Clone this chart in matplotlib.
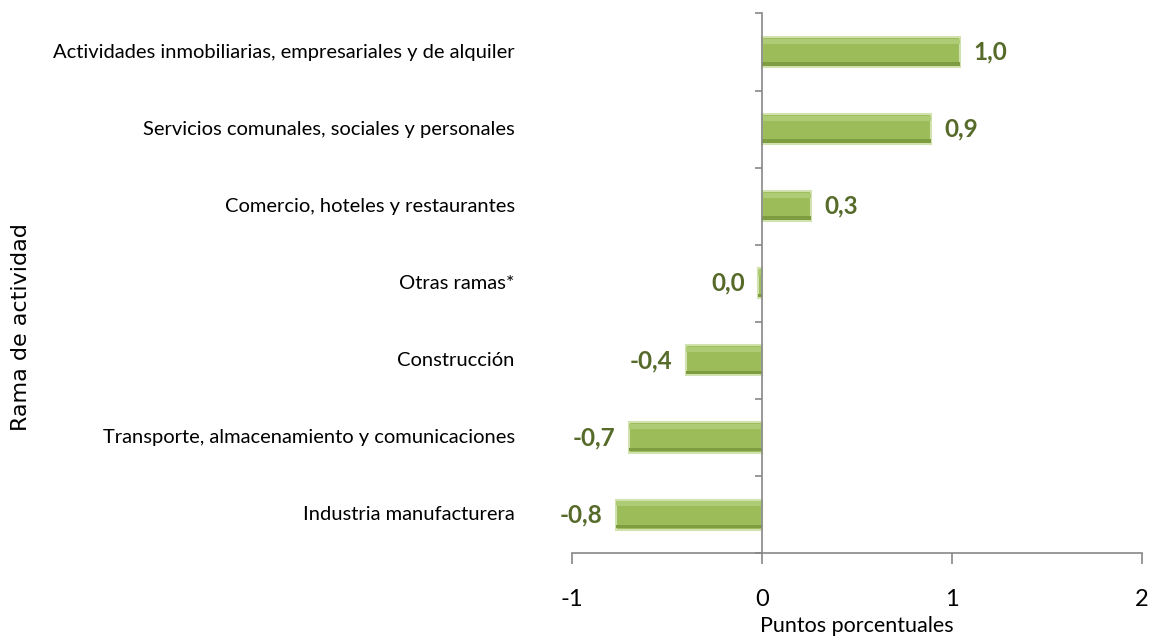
import matplotlib.pyplot as plt
from matplotlib.transforms import blended_transform_factory

# data (top to bottom)
categories = [
    "Actividades inmobiliarias, empresariales y de alquiler",
    "Servicios comunales, sociales y personales",
    "Comercio, hoteles y restaurantes",
    "Otras ramas*",
    "Construcción",
    "Transporte, almacenamiento y comunicaciones",
    "Industria manufacturera",
]
values = [1.04, 0.89, 0.26, -0.02, -0.40, -0.70, -0.77]
value_labels = ["1,0", "0,9", "0,3", "0,0", "-0,4", "-0,7", "-0,8"]
x_ticks = [-1, 0, 1, 2]

bar_face = "#9CBC5A"
label_green = "#566B2A"
axis_gray = "#878787"

fig = plt.figure(figsize=(11.53, 6.41), dpi=100)
ax = fig.add_axes([0.496, 0.137, 0.4945, 0.842])

y = list(range(len(categories)))
h = 0.39

# main bars with a soft bevel look
ax.barh(y, values, height=h, color=bar_face, edgecolor="#D2E2AE", linewidth=1.5, zorder=2)
ax.barh([p - h * 0.36 for p in y], values, height=h * 0.16, color="#AECB76", linewidth=0, zorder=3)
ax.barh([p + h * 0.40 for p in y], values, height=h * 0.12, color="#7E9C40", linewidth=0, zorder=3)

# value labels
for yi, v, lab in zip(y, values, value_labels):
    if v >= 0:
        ax.text(v + 0.07, yi, lab, ha="left", va="center", fontsize=17.5,
                fontweight="bold", color=label_green, family="Lato")
    else:
        ax.text(v - 0.07, yi, lab, ha="right", va="center", fontsize=17.5,
                fontweight="bold", color=label_green, family="Lato")

# category labels to the left of the plot area
trans = blended_transform_factory(ax.transAxes, ax.transData)
for yi, cat in zip(y, categories):
    ax.text(-0.1, yi, cat, transform=trans, ha="right", va="center",
            fontsize=14.5, color="black", family="Lato")

ax.set_xlim(-1, 2)
ax.set_ylim(len(categories) - 0.5, -0.5)
ax.set_xticks(x_ticks)
ax.set_xticklabels([str(t) for t in x_ticks], fontsize=17, family="Lato")
ax.tick_params(axis="x", direction="out", length=8, width=1.2, color=axis_gray, pad=18)

ax.set_yticks([i - 0.5 for i in range(len(categories) + 1)])
ax.set_yticklabels([])
ax.tick_params(axis="y", direction="out", length=5, width=1.2, color=axis_gray)

ax.spines["top"].set_visible(False)
ax.spines["right"].set_visible(False)
ax.spines["left"].set_position(("data", 0))
ax.spines["left"].set_color(axis_gray)
ax.spines["left"].set_linewidth(1.2)
ax.spines["bottom"].set_color(axis_gray)
ax.spines["bottom"].set_linewidth(1.2)
ax.spines["left"].set_zorder(4)

ax.set_xlabel("Puntos porcentuales", fontsize=15.5, family="Lato", labelpad=4)
fig.text(0.018, 0.49, "Rama de actividad", rotation=90, ha="center", va="center",
         fontsize=16, family="DejaVu Sans")

fig.savefig("out.png", dpi=100)
